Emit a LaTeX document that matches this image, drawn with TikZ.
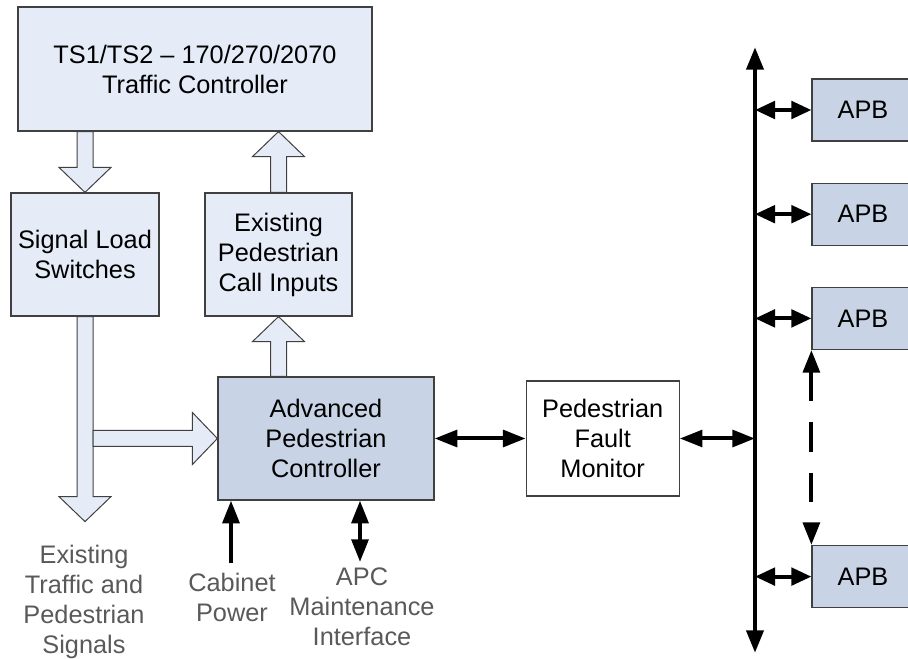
\documentclass[tikz,border=0pt]{standalone}
\usepackage{fontspec}
\setmainfont{Liberation Sans}
\usetikzlibrary{positioning,calc,arrows.meta}
\definecolor{boxlight}{RGB}{230,236,247}
\definecolor{boxdark}{RGB}{200,212,230}
\definecolor{textgray}{RGB}{89,89,89}
\definecolor{edgegray}{RGB}{64,64,64}

% hollow block arrow from #1 to the tip #2
\newcommand{\fatarrow}[2]{%
  \draw[hollow] let \p1=#1, \p2=#2,
      \n1={atan2(\y2-\y1,\x2-\x1)}, \n2={veclen(\x2-\x1,\y2-\y1)} in
    [shift={(\p1)}, rotate=\n1]
    (0pt,-6pt) -- ({\n2*1pt-18.75pt},-6pt) -- ({\n2*1pt-18.75pt},-19.5pt)
    -- ({\n2*1pt},0pt) -- ({\n2*1pt-18.75pt},19.5pt) -- ({\n2*1pt-18.75pt},6pt)
    -- (0pt,6pt) -- cycle;}

\begin{document}
\begin{tikzpicture}[
    x=0.75pt, y=-0.75pt,
    font=\fontsize{19}{22.5}\selectfont,
    node distance=30.75pt,  % gap between the APB boxes
    block/.style = {draw=edgegray, line width=0.9pt, fill=boxlight, align=center, inner sep=0pt},
    apbbox/.style = {block, fill=boxdark, minimum width=76.5pt, minimum height=46.5pt},
    sidetext/.style = {text=textgray, align=center, inner sep=0pt},
    hollow/.style = {draw=edgegray, line width=0.75pt, fill=boxlight},
    wire/.style = {line width=3pt, {Triangle[length=17pt, width=12.5pt]}-{Triangle[length=17pt, width=12.5pt]}},
    tap/.style = {line width=3pt, {Triangle[length=15pt, width=13pt]}-{Triangle[length=15pt, width=13pt]}},
    bus/.style = {line width=3.6pt, {Triangle[length=17pt, width=12.5pt]}-{Triangle[length=17pt, width=12.5pt]}}
  ]
    \useasboundingbox (0,0) rectangle (908,659);
    \clip (0,0) rectangle (908,659);

    \node[block, minimum width=265.5pt, minimum height=93pt] (tc) at (195,69) {TS1/TS2 -- 170/270/2070\\Traffic Controller};
    \node[block, minimum width=111pt, minimum height=92.25pt] (sls) at (85,254.5) {Signal Load\\Switches};
    \node[block, minimum width=110.25pt, minimum height=92.25pt] (epci) at (278.5,254.5) {Existing\\Pedestrian\\Call Inputs};
    \node[block, fill=boxdark, minimum width=162pt, minimum height=92.25pt] (apc) at (326,438.5) {Advanced\\Pedestrian\\Controller};
    \node[block, fill=white, minimum width=114.75pt, minimum height=86.25pt, right=68.25pt of apc] (pfm) {Pedestrian\\Fault\\Monitor};

    % APB boxes along the bus
    \node[apbbox] (apb1) at (863,110) {APB};
    \node[apbbox, below=of apb1] (apb2) {APB};
    \node[apbbox, below=of apb2] (apb3) {APB};
    \node[apbbox, below=146.25pt of apb3] (apb4) {APB};

    \node[sidetext] (sig) at (84,602) {Existing\\Traffic and\\Pedestrian\\Signals};
    \node[sidetext] (cab) at (232,597) {Cabinet\\Power};
    \node[sidetext] (mnt) at (362,607) {APC\\Maintenance\\Interface};

    \coordinate (bustop) at (755,47);
    \coordinate (busbot) at (755,653);
    \coordinate (cabin) at (231,563);
    \coordinate (mntin) at (360,562);
    \coordinate (sigtip) at ($(sls.south)+(0,205)$);

    % block arrows
    \fatarrow{(sls.north |- tc.south)}{(sls.north)}
    \fatarrow{(epci.north)}{(epci.north |- tc.south)}
    \fatarrow{(epci.south |- apc.north)}{(epci.south)}
    \fatarrow{(sls.south)}{(sigtip)}
    \fatarrow{($(sls.south |- apc.west)+(8,0)$)}{(apc.west)}

    \draw[wire] (apc.east) -- (apc.east -| pfm.west);
    \draw[wire] (pfm.east) -- (pfm.east -| bustop);
    \draw[bus] (bustop) -- (busbot);
    \foreach \b in {apb1,apb2,apb3,apb4}
      \draw[tap] (\b.west -| bustop) -- (\b.west);
    \draw[wire, dash pattern=on 22pt off 16pt] (apb3.south west) -- (apb4.north west);

    \draw[line width=3pt, -{Triangle[length=17pt, width=12.5pt]}] (cabin) -- (cabin |- apc.south);
    \draw[wire] (mntin) -- (mntin |- apc.south);

  \end{tikzpicture}
\end{document}
